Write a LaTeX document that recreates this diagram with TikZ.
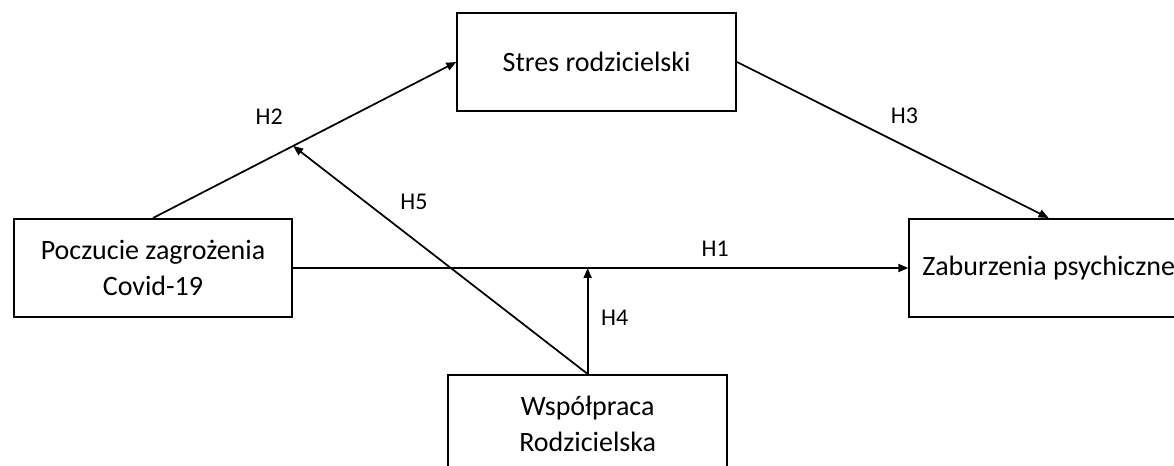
\documentclass[tikz,border=0pt]{standalone}
\usepackage{fontspec}
\setmainfont{Carlito}
\usetikzlibrary{positioning, arrows.meta, calc}

\begin{document}
\begin{tikzpicture}[
	>={Triangle[length=7.5pt, width=6pt]},
	% Style for Nodes
	construct/.style={
		rectangle,
		draw=black,
		line width=1.5pt,
		minimum width=209pt,
		minimum height=73.5pt,
		align=center,
		inner sep=2pt,
		font=\fontsize{21}{27}\selectfont
	},
	% Hypothesis Labels
	hypo/.style={inner sep=0pt, font=\fontsize{18}{22}\selectfont},
	% Arrow Styles
	effect/.style={->, line width=1.3pt}
	]
	
	% Page frame
	\useasboundingbox (-114.75pt,-148.5pt) rectangle (765.75pt,201pt);
	
	% --- PREDICTOR ---
	\node[construct] (Threat) at (0,0) {Poczucie zagrożenia\\Covid-19};
	
	% --- MEDIATOR ---
	\node[construct, above right=79.5pt and 122.25pt of Threat] (Stress) {Stres rodzicielski};
	
	% --- OUTCOME ---
	\node[construct, right=461.25pt of Threat] (Disorder) {Zaburzenia psychiczne};
	
	% --- MODERATOR ---
	\node[construct, below right=42pt and 115.5pt of Threat] (Coop) {Współpraca\\Rodzicielska};
	
	% --- CONNECTIONS ---
	
	% Indirect path
	\draw[effect] (Threat.north) -- coordinate[pos=0.462] (H2mid) node[hypo, pos=0.383, yshift=31.3pt] {H2} (Stress.west);
	\draw[effect] (Stress.east) -- node[hypo, pos=0.537, yshift=22.5pt] {H3} (Disorder.north);
	
	% Direct path
	\draw[effect] (Threat.east) -- node[hypo, pos=0.686, yshift=14.25pt] {H1} (Disorder.west);
	
	% Moderation
	\draw[effect] (Coop.north) -- node[hypo, pos=0.528, xshift=20.25pt] {H4} (Coop.north |- Threat.east);
	\draw[effect] (Coop.north) -- node[hypo, pos=0.59, yshift=28.5pt] {H5} (H2mid);
	
\end{tikzpicture}
\end{document}
